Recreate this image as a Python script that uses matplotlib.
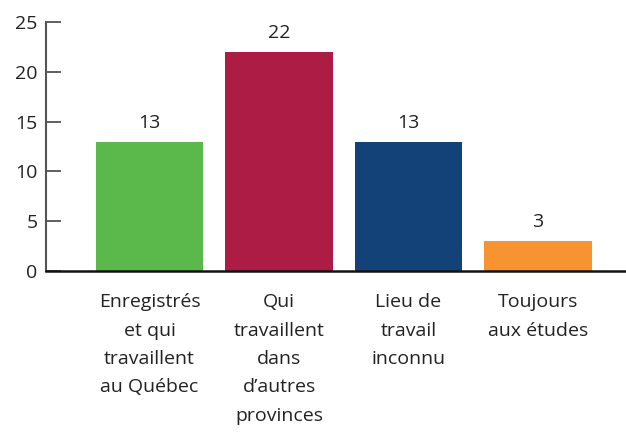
import matplotlib.pyplot as plt
import numpy as np

plt.rcParams['font.family'] = ['Open Sans', 'DejaVu Sans']

categories = ["Enregistrés\net qui\ntravaillent\nau Québec",
              "Qui\ntravaillent\ndans\nd’autres\nprovinces",
              "Lieu de\ntravail\ninconnu",
              "Toujours\naux études"]
values = [13, 22, 13, 3]
colors = ["#5BB94B", "#AC1C44", "#124278", "#F79431"]

fig = plt.figure(figsize=(6.26, 4.36), dpi=100)
ax = fig.add_axes([46 / 626, 1 - 271 / 436, 1 - 46 / 626, (271 - 22) / 436])

index = np.arange(len(categories))
bars = ax.bar(index, values, width=0.83, color=colors, zorder=2)

for b, v in zip(bars, values):
    ax.text(b.get_x() + b.get_width() / 2, v + 1.0, str(v),
            ha='center', va='bottom', fontsize=14, color='#222222')

ax.set_xlim(-0.8, 3.68)
ax.set_ylim(0, 25)
ax.set_yticks([0, 5, 10, 15, 20, 25])
ax.set_xticks(index)
ax.set_xticklabels(categories, fontsize=14, color='#222222', linespacing=1.74)
ax.tick_params(axis='x', length=0, pad=16)
ax.tick_params(axis='y', direction='in', length=11, width=1.2, color='#444444',
               labelsize=14, labelcolor='#222222', pad=6)

for s in ['top', 'right']:
    ax.spines[s].set_visible(False)
ax.spines['left'].set_color('#555555')
ax.spines['left'].set_linewidth(1.5)
ax.spines['bottom'].set_color('#111111')
ax.spines['bottom'].set_linewidth(1.8)
ax.spines['bottom'].set_zorder(3)

fig.savefig("out.png", dpi=100)
